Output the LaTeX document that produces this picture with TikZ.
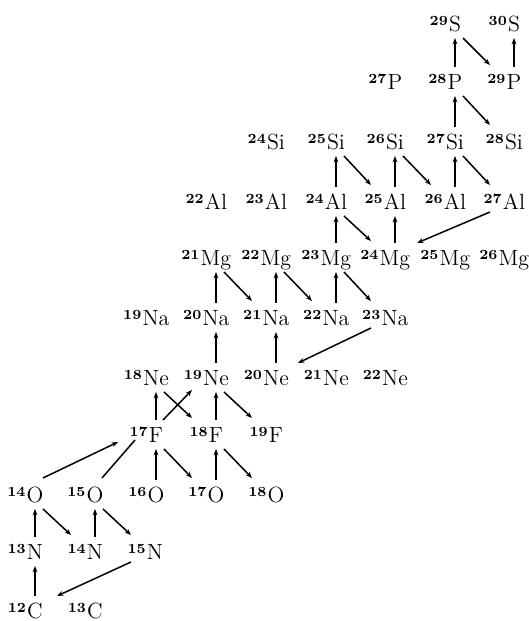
\documentclass[tikz,border=0pt]{standalone}
\usepackage{fontspec}
\usetikzlibrary{arrows.meta}
\newcommand\nuc[2]{\llap{\raisebox{3pt}{\fontsize{7}{8}\selectfont\bfseries #1}\kern0.6pt}#2}
\newcommand\arrUp[2]{\draw[ar] ([shift={(0,-15)}]#1.center) -- ([shift={(0,14)}]#2.center);}
\newcommand\arrDR[2]{\draw[ar] ([shift={(8,14)}]#1.center) -- ([shift={(-24,-17)}]#2.center);}
\newcommand\arrDL[2]{\draw[ar] ([shift={(-24,10)}]#1.center) -- ([shift={(22,-15)}]#2.center);}
\begin{document}
\begin{tikzpicture}[x=0.5pt,y=-0.5pt,
  nucl/.style={inner sep=0pt, outer sep=0pt, text height=7.5pt, text depth=0pt, font=\fontsize{11}{13}\selectfont},
  ar/.style={-{Stealth[length=3.2pt,width=2.4pt]}, line width=0.75pt},
  ln/.style={line width=0.75pt}]
\useasboundingbox (0,0) rectangle (529,621);
% S
\node[nucl] (s29) at (455,24) {\nuc{29}{S}};
\node[nucl] (s30) at (514,24) {\nuc{30}{S}};
% P
\node[nucl] (p27) at (395,82) {\nuc{27}{P}};
\node[nucl] (p28) at (455,82) {\nuc{28}{P}};
\node[nucl] (p29) at (514,82) {\nuc{29}{P}};
% Si
\node[nucl] (si24) at (276,142) {\nuc{24}{Si}};
\node[nucl] (si25) at (336,142) {\nuc{25}{Si}};
\node[nucl] (si26) at (395,142) {\nuc{26}{Si}};
\node[nucl] (si27) at (455,142) {\nuc{27}{Si}};
\node[nucl] (si28) at (514,142) {\nuc{28}{Si}};
% Al
\node[nucl] (al22) at (216,202) {\nuc{22}{Al}};
\node[nucl] (al23) at (276,202) {\nuc{23}{Al}};
\node[nucl] (al24) at (336,202) {\nuc{24}{Al}};
\node[nucl] (al25) at (395,202) {\nuc{25}{Al}};
\node[nucl] (al26) at (455,202) {\nuc{26}{Al}};
\node[nucl] (al27) at (514,202) {\nuc{27}{Al}};
% Mg
\node[nucl] (mg21) at (216,258) {\nuc{21}{Mg}};
\node[nucl] (mg22) at (276,258) {\nuc{22}{Mg}};
\node[nucl] (mg23) at (336,258) {\nuc{23}{Mg}};
\node[nucl] (mg24) at (395,258) {\nuc{24}{Mg}};
\node[nucl] (mg25) at (455,258) {\nuc{25}{Mg}};
\node[nucl] (mg26) at (514,258) {\nuc{26}{Mg}};
% Na
\node[nucl] (na19) at (156,318) {\nuc{19}{Na}};
\node[nucl] (na20) at (216,318) {\nuc{20}{Na}};
\node[nucl] (na21) at (276,318) {\nuc{21}{Na}};
\node[nucl] (na22) at (336,318) {\nuc{22}{Na}};
\node[nucl] (na23) at (395,318) {\nuc{23}{Na}};
% Ne
\node[nucl] (ne18) at (156,378) {\nuc{18}{Ne}};
\node[nucl] (ne19) at (216,378) {\nuc{19}{Ne}};
\node[nucl] (ne20) at (276,378) {\nuc{20}{Ne}};
\node[nucl] (ne21) at (336,378) {\nuc{21}{Ne}};
\node[nucl] (ne22) at (395,378) {\nuc{22}{Ne}};
% F
\node[nucl] (f17) at (156,435) {\nuc{17}{F}};
\node[nucl] (f18) at (216,435) {\nuc{18}{F}};
\node[nucl] (f19) at (276,435) {\nuc{19}{F}};
% O
\node[nucl] (o14) at (35,495) {\nuc{14}{O}};
\node[nucl] (o15) at (95,495) {\nuc{15}{O}};
\node[nucl] (o16) at (156,495) {\nuc{16}{O}};
\node[nucl] (o17) at (216,495) {\nuc{17}{O}};
\node[nucl] (o18) at (276,495) {\nuc{18}{O}};
% N
\node[nucl] (n13) at (35,552) {\nuc{13}{N}};
\node[nucl] (n14) at (95,552) {\nuc{14}{N}};
\node[nucl] (n15) at (155,552) {\nuc{15}{N}};
% C
\node[nucl] (c12) at (35,611) {\nuc{12}{C}};
\node[nucl] (c13) at (95,611) {\nuc{13}{C}};
% vertical arrows
\arrUp{c12}{n13}
\arrUp{n13}{o14}
\arrUp{n14}{o15}
\arrUp{o16}{f17}
\arrUp{f17}{ne18}
\arrUp{o17}{f18}
\arrUp{f18}{ne19}
\arrUp{ne19}{na20}
\arrUp{na20}{mg21}
\arrUp{ne20}{na21}
\arrUp{na21}{mg22}
\arrUp{na22}{mg23}
\arrUp{mg23}{al24}
\arrUp{al24}{si25}
\arrUp{mg24}{al25}
\arrUp{al25}{si26}
\arrUp{al26}{si27}
\arrUp{si27}{p28}
\arrUp{p28}{s29}
\arrUp{p29}{s30}
% down-right arrows
\arrDR{o14}{n14}
\arrDR{o15}{n15}
\arrDR{ne18}{f18}
\arrDR{f17}{o17}
\arrDR{f18}{o18}
\arrDR{ne19}{f19}
\arrDR{mg21}{na21}
\arrDR{mg22}{na22}
\arrDR{mg23}{na23}
\arrDR{al24}{mg24}
\arrDR{si25}{al25}
\arrDR{si26}{al26}
\arrDR{si27}{al27}
\arrDR{p28}{si28}
\arrDR{s29}{p29}
% down-left arrows
\arrDL{n15}{c12}
\arrDL{na23}{ne20}
\arrDL{al27}{mg24}
% up-right
\draw[ar] ([shift={(7,-15)}]f17.center) -- ([shift={(-24,12)}]ne19.center);
\draw[ar] ([shift={(8,-17)}]o14.center) -- ([shift={(-38,7)}]f17.center);
\draw[ln] ([shift={(7,-17)}]o15.center) -- ([shift={(-21,5)}]f17.center);
\end{tikzpicture}
\end{document}
